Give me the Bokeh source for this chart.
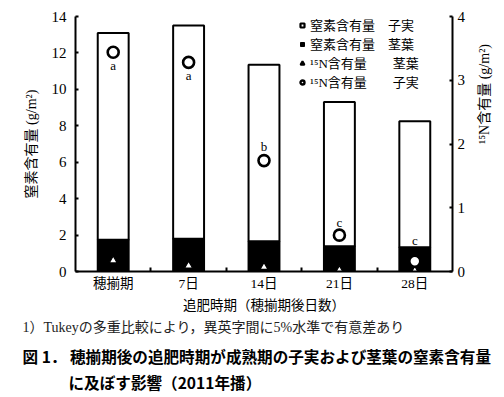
from bokeh.plotting import figure
from bokeh.models import (Range1d, LinearAxis, FixedTicker, Legend, LegendItem,
                          ColumnDataSource, Title)
from bokeh.embed import file_html
from bokeh.resources import INLINE
import math

# ---- data ----
categories = ["穂揃期", "7日", "14日", "21日", "28日"]
n_stem = [1.74, 1.80, 1.66, 1.39, 1.33]          # 窒素含有量 茎葉 (g/m2)
n_grain = [11.36, 11.70, 9.69, 7.91, 6.92]       # 窒素含有量 子実 (g/m2)
n15_grain = [3.44, 3.28, 1.74, 0.57, 0.16]       # 15N含有量 子実 (g/m2)
n15_stem = [0.17, 0.09, 0.07, 0.02, 0.01]        # 15N含有量 茎葉 (g/m2)
letters = ["a", "a", "b", "c", "c"]
letter_dy = [13, 13, -14, -13, -21]              # px offset of letter from circle (down +)
left_ticks = [0, 2, 4, 6, 8, 10, 12, 14]
right_ticks = [0, 1, 2, 3, 4]

SERIF = "Liberation Serif, Noto Sans CJK JP"
CJK = "Noto Sans CJK JP"

xc = [i + 0.5 for i in range(len(categories))]
n_total = [s + g for s, g in zip(n_stem, n_grain)]

src = ColumnDataSource(dict(x=xc, stem=n_stem, total=n_total, g15=n15_grain,
                            s15=n15_stem, lab=letters, dy=letter_dy,
                            zero=[0] * len(xc)))

p = figure(width=504, height=397, output_backend="svg", toolbar_location=None,
           x_range=Range1d(0, 5), y_range=Range1d(0, 14),
           min_border_left=75, min_border_right=52, min_border_top=16,
           min_border_bottom=126, outline_line_color=None)
p.background_fill_color = "white"
p.border_fill_color = "white"
p.grid.visible = False
p.extra_y_ranges = {"n15": Range1d(0, 4)}

# bars
p.vbar(x="x", bottom="zero", top="stem", width=0.41, source=src,
       fill_color="black", line_color="black", line_width=2)
p.vbar(x="x", bottom="stem", top="total", width=0.41, source=src,
       fill_color="white", line_color="black", line_width=2)

# 15N markers
p.scatter(x="x", y="s15", source=src, y_range_name="n15", marker="triangle",
          size=8, fill_color="white", line_color="black", line_width=1.2)
p.scatter(x="x", y="g15", source=src, y_range_name="n15", marker="circle",
          size=11, fill_color="white", line_color="black", line_width=2.6)
p.text(x="x", y="g15", text="lab", source=src, y_range_name="n15",
       y_offset="dy", text_align="center", text_baseline="middle",
       text_font={"value": SERIF}, text_font_size="13px", text_color="black")

# axes
xa = p.xaxis[0]
xa.ticker = FixedTicker(ticks=xc, minor_ticks=[1, 2, 3, 4])
xa.major_label_overrides = {x: c for x, c in zip(xc, categories)}
xa.major_tick_in = 0
xa.major_tick_out = 0
xa.minor_tick_in = 4
xa.minor_tick_out = 0
xa.minor_tick_line_width = 2
xa.axis_line_width = 2
xa.major_label_text_font = SERIF
xa.major_label_text_font_size = "13.5px"
xa.major_label_text_color = "black"
xa.major_label_standoff = 4
xa.axis_label = "追肥時期（穂揃期後日数）"
xa.axis_label_text_font = SERIF
xa.axis_label_text_font_style = "normal"
xa.axis_label_text_font_size = "13.5px"
xa.axis_label_text_color = "black"
xa.axis_label_standoff = 4

ya = p.yaxis[0]
ya.ticker = FixedTicker(ticks=left_ticks)
ya.major_tick_in = 3
ya.major_tick_out = 0
ya.minor_tick_line_color = None
ya.axis_line_width = 2
ya.major_tick_line_width = 2
ya.major_label_text_font = SERIF
ya.major_label_text_font_size = "15px"
ya.major_label_text_color = "black"
ya.major_label_standoff = 9
ya.axis_label = "窒素含有量 (g/m²)"
ya.axis_label_text_font = SERIF
ya.axis_label_text_font_style = "normal"
ya.axis_label_text_font_size = "14px"
ya.axis_label_text_color = "black"
ya.axis_label_standoff = 10

ra = LinearAxis(y_range_name="n15", ticker=FixedTicker(ticks=right_ticks))
ra.major_tick_in = 3
ra.major_tick_out = 0
ra.minor_tick_line_color = None
ra.axis_line_width = 2
ra.major_tick_line_width = 2
ra.major_label_text_font = SERIF
ra.major_label_text_font_size = "15px"
ra.major_label_text_color = "black"
ra.major_label_standoff = 5
p.add_layout(ra, "right")

# right-side title (reads bottom-to-top) drawn as a rotated tick label of a bare axis
rlab = LinearAxis(y_range_name="n15", ticker=FixedTicker(ticks=[2]))
rlab.major_label_overrides = {2: "¹⁵N含有量 (g/m²)"}
rlab.major_label_orientation = math.pi / 2
rlab.axis_line_color = None
rlab.major_tick_line_color = None
rlab.minor_tick_line_color = None
rlab.major_label_text_font = SERIF
rlab.major_label_text_font_size = "14px"
rlab.major_label_text_color = "black"
rlab.major_label_standoff = 10
p.add_layout(rlab, "right")

# legend (dummy renderers, placed outside the visible range)
def dummy():
    return ColumnDataSource(dict(x=[-10], y=[-10]))
r1 = p.scatter(x="x", y="y", source=dummy(), marker="square",
               size=8, fill_color="white", line_color="black", line_width=2.2)
r2 = p.scatter(x="x", y="y", source=dummy(), marker="square",
               size=8, fill_color="black", line_color="black", line_width=1)
r3 = p.scatter(x="x", y="y", source=dummy(), marker="triangle",
               size=8, fill_color="white", line_color="black", line_width=2)
r4 = p.scatter(x="x", y="y", source=dummy(), marker="circle",
               size=8, fill_color="white", line_color="black", line_width=2.4)
legend = Legend(items=[
    LegendItem(label="窒素含有量　子実", renderers=[r1]),
    LegendItem(label="窒素含有量　茎葉", renderers=[r2]),
    LegendItem(label="¹⁵N含有量　　茎葉", renderers=[r3]),
    LegendItem(label="¹⁵N含有量　　子実", renderers=[r4]),
], location=(222, 180), orientation="vertical",
    glyph_width=10, glyph_height=10, label_standoff=3, spacing=0,
    label_height=19, padding=2, margin=0,
    label_text_font=SERIF, label_text_font_size="13px", label_text_color="black",
    border_line_color=None, background_fill_alpha=0)
p.add_layout(legend, "center")

# captions below the axis
t1 = Title(text="1）Tukeyの多重比較により，異英字間に5%水準で有意差あり",
           align="left", offset=-53, standoff=5,
           text_font=SERIF, text_font_size="14px", text_font_style="normal",
           text_color="#222222")
t2 = Title(text="図 1． 穂揃期後の追肥時期が成熟期の子実および茎葉の窒素含有量",
           align="left", offset=-53, standoff=11,
           text_font=CJK, text_font_size="15.6px", text_font_style="bold",
           text_color="black")
t3 = Title(text="に及ぼす影響（2011年播）",
           align="left", offset=-7, standoff=-8,
           text_font=CJK, text_font_size="15.6px", text_font_style="bold",
           text_color="black")
p.add_layout(t1, "below")
p.add_layout(t2, "below")
p.add_layout(t3, "below")

open("out.html", "w").write(file_html(p, INLINE))
